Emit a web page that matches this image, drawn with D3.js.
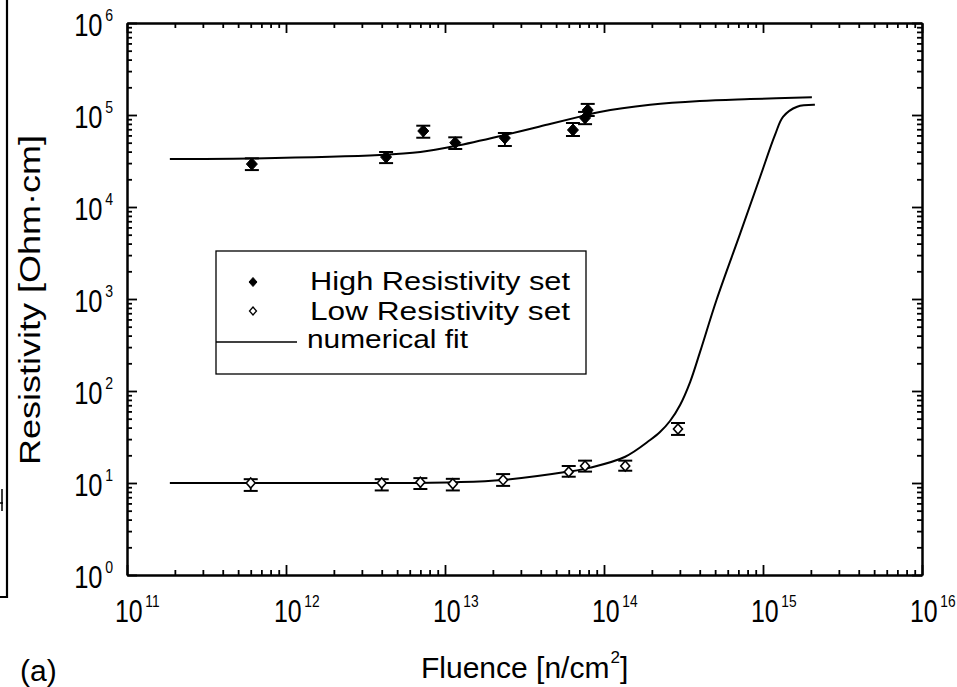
<!DOCTYPE html>
<html>
<head>
<meta charset="utf-8">
<script src="https://cdn.jsdelivr.net/npm/d3@7"></script>
<style>
  html, body { margin: 0; padding: 0; background: #fff; }
  svg { display: block; }
  text { font-family: "Liberation Sans", Arial, Helvetica, sans-serif; fill: #000; }
</style>
</head>
<body>
<svg id="chart" width="957" height="687"></svg>
<script>
// ---- Data ----
const fluenceHigh = [6.1e11, 4.26e12, 7.3e12, 1.16e13, 2.38e13, 6.38e13, 7.6e13, 7.9e13];
const resHigh     = [2.93e4, 3.49e4, 6.7e4, 5.0e4, 5.62e4, 6.87e4, 9.3e4, 1.13e5];
const resHighUp   = [3.38e4, 3.96e4, 7.65e4, 5.72e4, 6.37e4, 8.18e4, 1.08e5, 1.32e5];
const resHighDown = [2.52e4, 3.0e4, 5.66e4, 4.27e4, 4.6e4, 5.91e4, 7.95e4, 9.75e4];

const fluenceLow = [6.0e11, 4.0e12, 7.0e12, 1.12e13, 2.32e13, 6.0e13, 7.6e13, 1.36e14, 2.92e14];
const resLow     = [10, 10, 10.2, 9.8, 10.8, 13.2, 15.3, 15.3, 38.6];
const resLowUp   = [11.0, 11.0, 11.3, 11.1, 12.5, 15.3, 17.5, 17.5, 44.9];
const resLowDown = [8.2, 8.3, 8.6, 8.3, 9.3, 11.7, 13.3, 13.6, 33.3];

const fitHighF = [1.86e11, 5.9e11, 3.9e12, 7e12, 1.16e13, 2.38e13, 4.57e13, 7.06e13, 9.4e13, 1.95e14, 4.0e14, 8.3e14, 2.03e15];
const fitHighR = [3.33e4, 3.37e4, 3.67e4, 3.96e4, 4.6e4, 6.07e4, 7.98e4, 9.6e4, 1.08e5, 1.29e5, 1.42e5, 1.49e5, 1.56e5];

const fitLowF = [1.86e11, 1.26e12, 5.2e12, 1.11e13, 2.32e13, 6.0e13, 8.2e13, 1.36e14, 1.95e14, 2.25e14, 2.60e14, 3.01e14, 3.48e14, 4.02e14, 5.1e14, 7.2e14, 9.6e14, 1.19e15, 1.34e15, 1.64e15, 2.12e15];
const fitLowR = [10, 10, 10, 10.2, 10.8, 13.3, 14.7, 19.3, 29.3, 35.8, 47.2, 70.5, 125, 266, 975, 5.2e3, 2.13e4, 6.07e4, 9.6e4, 1.23e5, 1.29e5];

const xTickExp = [11, 12, 13, 14, 15, 16];
const yTickExp = [0, 1, 2, 3, 4, 5, 6];

const legendLabels = ["High Resistivity set", "Low Resistivity set", "numerical fit"];
const xTitle = "Fluence [n/cm";
const yTitle = "Resistivity [Ohm\u00B7cm]";
const panelLabel = "(a)";

// ---- Layout ----
const svg = d3.select("#chart");
const L = 127, R = 922, T = 23, B = 575;

const x = d3.scaleLog().domain([1e11, 1e16]).range([L, R]);
const y = d3.scaleLog().domain([1, 1e6]).range([B, T]);

const xMajor = xTickExp.map(e => Math.pow(10, e));
const yMajor = yTickExp.map(e => Math.pow(10, e));
const minorOf = (majors) => {
  const out = [];
  for (let i = 0; i < majors.length - 1; i++)
    for (let k = 2; k <= 9; k++) out.push(majors[i] * k);
  return out;
};
const xMinor = minorOf(xMajor);
const yMinor = minorOf(yMajor);

// decorative fragment of the neighbouring panel at far left
svg.append("path").attr("d", `M7,0 L7,597 L0,597`).attr("fill", "none").attr("stroke", "#000").attr("stroke-width", 2.2);
svg.append("path").attr("d", `M2,489 L2,511 M0,503 L3,503`).attr("fill", "none").attr("stroke", "#000").attr("stroke-width", 1.5);

function styleAxis(g) {
  g.selectAll("path.domain").attr("stroke", "#000").attr("stroke-width", 2);
  g.selectAll(".tick line").attr("stroke", "#000").attr("stroke-width", 1.8);
  g.selectAll(".tick text").remove();
}

// major + minor ticks, all inward, on all four sides
const axes = [
  [() => d3.axisBottom(x), `translate(0,${B})`, xMajor, xMinor],
  [() => d3.axisTop(x), `translate(0,${T})`, xMajor, xMinor],
  [() => d3.axisLeft(y), `translate(${L},0)`, yMajor, yMinor],
  [() => d3.axisRight(y), `translate(${R},0)`, yMajor, yMinor]
];
axes.forEach(([mk, tr, maj, min]) => {
  svg.append("g").attr("transform", tr)
    .call(mk().tickValues(min).tickSize(-5).tickSizeOuter(0).tickFormat(() => ""))
    .call(styleAxis);
  svg.append("g").attr("transform", tr)
    .call(mk().tickValues(maj).tickSize(-10).tickSizeOuter(0).tickFormat(() => ""))
    .call(styleAxis);
});

// x tick labels
xTickExp.forEach(e => {
  const g = svg.append("g").attr("transform", `translate(${x(Math.pow(10, e)) - 12},622) scale(0.86,1.08)`);
  const t = g.append("text").attr("x", 0).attr("y", 0).attr("font-size", 29);
  t.append("tspan").text("10");
  t.append("tspan").attr("font-size", 16).attr("dx", 3).attr("dy", -14).text(String(e));
});
// y tick labels
yTickExp.forEach(e => {
  const g = svg.append("g").attr("transform", `translate(113,${y(Math.pow(10, e)) + 13}) scale(0.88,1.08)`);
  const t = g.append("text").attr("x", 0).attr("y", 0).attr("font-size", 29).attr("text-anchor", "end");
  t.append("tspan").text("10");
  t.append("tspan").attr("font-size", 16).attr("dx", 3).attr("dy", -14).text(String(e));
});

// axis titles
const xt = svg.append("text").attr("x", 421).attr("y", 678).attr("font-size", 30);
xt.append("tspan").text(xTitle);
xt.append("tspan").attr("font-size", 17).attr("dy", -15).attr("dx", 1).text("2");
xt.append("tspan").attr("dy", 15).text("]");

svg.append("text")
  .attr("transform", `translate(40,300) rotate(-90)`)
  .attr("text-anchor", "middle")
  .attr("font-size", 30)
  .attr("textLength", 330)
  .attr("lengthAdjust", "spacingAndGlyphs")
  .text(yTitle);

svg.append("text").attr("x", 20).attr("y", 681).attr("font-size", 30).text(panelLabel);

// fit curves
const line = d3.line().x(d => x(d[0])).y(d => y(d[1])).curve(d3.curveCatmullRom.alpha(0.5));
svg.append("path").datum(fitHighF.map((f, i) => [f, fitHighR[i]]))
  .attr("d", line).attr("fill", "none").attr("stroke", "#000").attr("stroke-width", 2);
svg.append("path").datum(fitLowF.map((f, i) => [f, fitLowR[i]]))
  .attr("d", line).attr("fill", "none").attr("stroke", "#000").attr("stroke-width", 2);

// error bars + markers
const diamond = (cx, cy, hw, hh) => `M${cx},${cy - hh} L${cx + hw},${cy} L${cx},${cy + hh} L${cx - hw},${cy} Z`;
function drawSet(F, Rv, up, down, filled) {
  const g = svg.append("g");
  F.forEach((f, i) => {
    const cx = x(f), y1 = y(up[i]), y2 = y(down[i]);
    g.append("line").attr("x1", cx).attr("x2", cx).attr("y1", y1).attr("y2", y2).attr("stroke", "#000").attr("stroke-width", 1.8);
    [y1, y2].forEach(yy => g.append("line").attr("x1", cx - 7).attr("x2", cx + 7).attr("y1", yy).attr("y2", yy).attr("stroke", "#000").attr("stroke-width", 2));
    g.append("path").attr("d", diamond(cx, y(Rv[i]), filled ? 5.5 : 4.5, filled ? 6 : 5))
      .attr("fill", filled ? "#000" : "#fff").attr("stroke", "#000").attr("stroke-width", filled ? 1 : 1.6);
  });
}
drawSet(fluenceHigh, resHigh, resHighUp, resHighDown, true);
drawSet(fluenceLow, resLow, resLowUp, resLowDown, false);

// legend
const lg = svg.append("g");
lg.append("rect").attr("x", 216).attr("y", 251).attr("width", 370).attr("height", 123)
  .attr("fill", "#fff").attr("stroke", "#000").attr("stroke-width", 1.3);
lg.append("path").attr("d", diamond(253, 282, 4, 4.5)).attr("fill", "#000").attr("stroke", "#000").attr("stroke-width", 1);
lg.append("path").attr("d", diamond(253, 311, 3.5, 4)).attr("fill", "#fff").attr("stroke", "#000").attr("stroke-width", 1.3);
lg.append("line").attr("x1", 216).attr("x2", 297).attr("y1", 342).attr("y2", 342).attr("stroke", "#000").attr("stroke-width", 1.6);
[[310, 290, 260], [310, 320, 260], [307, 348, 161]].forEach(([tx, ty, tl], i) => {
  lg.append("text").attr("x", tx).attr("y", ty).attr("font-size", 26)
    .attr("textLength", tl).attr("lengthAdjust", "spacingAndGlyphs").text(legendLabels[i]);
});
</script>
</body>
</html>
